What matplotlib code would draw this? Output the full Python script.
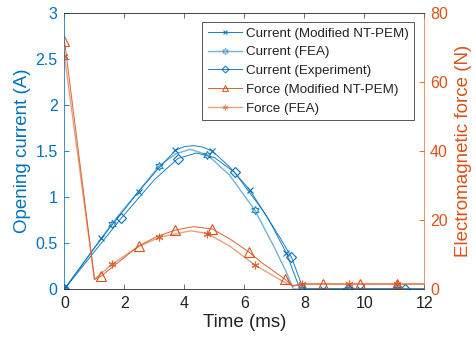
import matplotlib
matplotlib.use("Agg")
import matplotlib.pyplot as plt
from matplotlib.lines import Line2D

plt.rcParams['font.family'] = ['Liberation Sans', 'DejaVu Sans']

BLUE = '#0072BD'
ORANGE = '#D95319'

# ---- Current (Modified NT-PEM) ----
cm_t = [0, 1.23, 2.47, 3.1, 3.7, 4.0, 4.3, 4.6, 4.93, 5.5, 6.17, 6.8, 7.4, 7.65, 7.85, 8.63, 9.86, 11.09, 12]
cm_y = [0, 0.55, 1.06, 1.30, 1.51, 1.55, 1.56, 1.545, 1.50, 1.33, 1.08, 0.76, 0.39, 0.17, 0, 0, 0, 0, 0]
cm_mk = [0, 1, 2, 4, 8, 10, 12, 15, 16, 17]

# ---- Current (FEA) ----
cf_t = [0, 1.58, 3.16, 3.7, 4.2, 4.76, 5.5, 6.34, 7.0, 7.4, 7.63, 7.92, 9.5, 11.08, 12]
cf_y = [0, 0.71, 1.34, 1.47, 1.52, 1.46, 1.24, 0.86, 0.45, 0.18, 0, 0, 0, 0, 0]
cf_mk = [0, 1, 2, 5, 7, 11, 12, 13]

# ---- Current (Experiment) ----
ce_t = [0, 1.89, 3.0, 3.78, 4.4, 5.0, 5.67, 6.6, 7.2, 7.56, 7.96, 9.45, 11.34, 12]
ce_y = [0, 0.77, 1.19, 1.42, 1.48, 1.43, 1.27, 0.86, 0.55, 0.35, 0, 0, 0, 0]
ce_mk = [0, 1, 3, 6, 9, 11, 12]

# ---- Force (Modified NT-PEM) ----
fm_t = [0, 1.0, 1.23, 2.47, 3.1, 3.7, 4.3, 4.93, 5.5, 6.14, 6.58, 7.36, 7.6, 7.9, 8.63, 9.86, 11.09, 12]
fm_y = [72, 2.8, 3.8, 12.5, 15.3, 17.1, 18.1, 17.4, 14.6, 10.8, 7.6, 2.8, 0.9, 1.45, 1.45, 1.45, 1.45, 1.45]
fm_mk = [0, 2, 3, 5, 7, 9, 11, 14, 15, 16]

# ---- Force (FEA) ----
ff_t = [0, 1.0, 1.58, 2.45, 3.16, 4.2, 4.76, 5.5, 6.34, 6.91, 7.3, 7.63, 7.92, 9.5, 11.08, 12]
ff_y = [67.5, 2.8, 7.2, 12.2, 15.0, 16.9, 16.1, 12.5, 7.0, 4.1, 2.1, 0.87, 1.45, 1.45, 1.45, 1.45]
ff_mk = [0, 2, 4, 6, 8, 12, 13, 14]

x_ticks = [0, 2, 4, 6, 8, 10, 12]
yl_ticks = [0, 0.5, 1, 1.5, 2, 2.5, 3]
yr_ticks = [0, 20, 40, 60, 80]

fig = plt.figure(figsize=(4.77, 3.48), dpi=100)
ax = fig.add_axes([0.1352, 0.1695, 0.7547, 0.7923])
ax2 = ax.twinx()

HEX = (6, 1, 0)
AST = (6, 2, 0)

series = [
    (ax, cm_t, cm_y, cm_mk, BLUE, 'x', 4, 0.7, 0.9, 'Current (Modified NT-PEM)'),
    (ax, cf_t, cf_y, cf_mk, BLUE, HEX, 6, 1.0, 0.55, 'Current (FEA)'),
    (ax, ce_t, ce_y, ce_mk, BLUE, 'D', 5, 0.7, 0.9, 'Current (Experiment)'),
    (ax2, fm_t, fm_y, fm_mk, ORANGE, '^', 6.5, 0.7, 0.9, 'Force (Modified NT-PEM)'),
    (ax2, ff_t, ff_y, ff_mk, ORANGE, AST, 5.5, 1.0, 0.55, 'Force (FEA)'),
]

handles = []
for a, t, y, mk, c, m, ms, lw, al, lab in series:
    a.plot(t, y, color=c, lw=lw, alpha=al)
    a.plot([t[i] for i in mk], [y[i] for i in mk], ls='none', marker=m, ms=ms,
           mfc='none', mec=c, mew=0.8, alpha=min(1.0, al + 0.3))
    handles.append(Line2D([], [], color=c, lw=lw, alpha=al, marker=m, ms=ms - 1.5,
                          mfc='none', mec=c, mew=0.8, label=lab))

ax.set_xlim(0, 12)
ax.set_ylim(0, 3)
ax2.set_ylim(0, 80)
ax.set_xticks(x_ticks)
ax.set_xticklabels([str(v) for v in x_ticks])
ax.set_yticks(yl_ticks)
ax.set_yticklabels(['0', '0.5', '1', '1.5', '2', '2.5', '3'])
ax2.set_yticks(yr_ticks)
ax2.set_yticklabels([str(v) for v in yr_ticks])

GRAY = '#262626'
for a in (ax, ax2):
    for s in ('top', 'bottom'):
        a.spines[s].set_color(GRAY)
        a.spines[s].set_linewidth(0.6)
        a.spines[s].set_alpha(0.7)
    a.spines['left'].set_color(BLUE)
    a.spines['right'].set_color(ORANGE)
    a.spines['left'].set_linewidth(0.6)
    a.spines['right'].set_linewidth(0.6)
    a.spines['right'].set_alpha(0.45)
    a.spines['left'].set_alpha(0.6)

ax.tick_params(axis='x', direction='in', length=3.5, width=0.6, colors='#555555',
               labelsize=11.5, top=True, pad=5)
ax.tick_params(axis='x', labelcolor='#222222')
ax.tick_params(axis='y', direction='in', length=3.5, width=0.6, colors=BLUE,
               labelsize=11.5, pad=5)
ax2.tick_params(axis='y', direction='in', length=3.5, width=0.6, colors=ORANGE,
                labelsize=11.5, pad=4)

ax.set_xlabel('Time (ms)', fontsize=13.5, color='#222222', labelpad=2)
ax.set_ylabel('Opening current (A)', fontsize=13.5, color=BLUE, labelpad=3)
ax2.set_ylabel('Electromagnetic force (N)', fontsize=13.5, color=ORANGE, labelpad=5)

leg = ax2.legend(handles=handles, loc='upper right',
                 bbox_to_anchor=(414 / 477, 1 - 22 / 348),
                 bbox_transform=fig.transFigure, borderaxespad=0, fontsize=9.6,
                 frameon=True, fancybox=False, edgecolor='#555555', framealpha=1,
                 handlelength=2.6, handletextpad=0.25, labelspacing=0.48,
                 borderpad=0.4, numpoints=1)
leg.get_frame().set_linewidth(0.7)
for txt in leg.get_texts():
    txt.set_color('#222222')

fig.savefig('out.png', dpi=100)
